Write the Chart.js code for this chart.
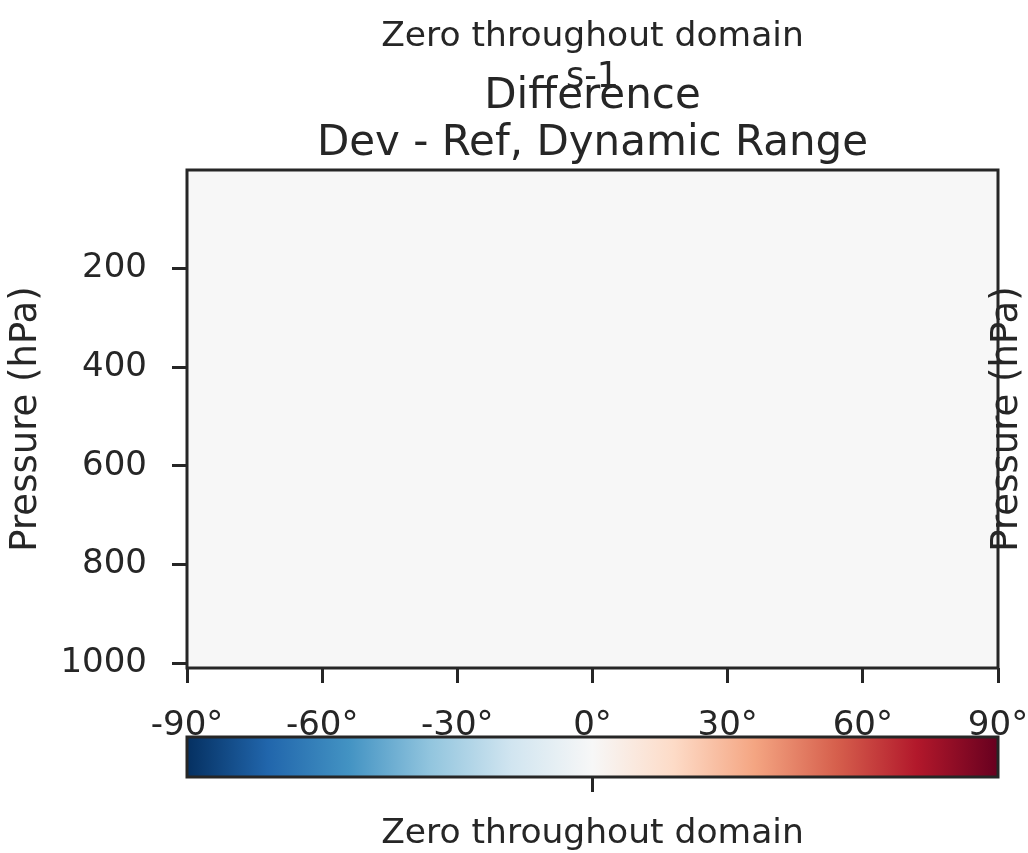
<!DOCTYPE html>
<html>
<head>
<meta charset="utf-8">
<script src="https://cdn.jsdelivr.net/npm/chart.js@4.4.1/dist/chart.umd.min.js"></script>
<style>
  html, body { margin: 0; padding: 0; background: #ffffff; }
  #wrap { width: 1028px; height: 853px; }
</style>
</head>
<body>
<div id="wrap"><canvas id="chart" width="1028" height="853"></canvas></div>
<script>
// zonal mean difference field (Dev - Ref), zero everywhere
const latitudeCenters = [-75, -45, -15, 15, 45, 75];
const pressureBand = [0, 1010];
const diffValues = [0, 0, 0, 0, 0, 0];
const xTickValues = [-90, -60, -30, 0, 30, 60, 90];
const yTickValues = [200, 400, 600, 800, 1000];
const colorbarRange = [-1, 1];
const colorbarTicks = [0];
// RdBu_r colormap
const cmapStops = ["#053061", "#2166ac", "#4393c3", "#92c5de", "#d1e5f0", "#f7f7f7",
                   "#fddbc7", "#f4a582", "#d6604d", "#b2182b", "#67001f"];

const TEXT = "#262626";
const FONT = "'DejaVu Sans', sans-serif";

function hexToRgb(h) {
  return [parseInt(h.slice(1, 3), 16), parseInt(h.slice(3, 5), 16), parseInt(h.slice(5, 7), 16)];
}

function colorFor(v) {
  let t = (v - colorbarRange[0]) / (colorbarRange[1] - colorbarRange[0]);
  t = Math.max(0, Math.min(1, t));
  const pos = t * (cmapStops.length - 1);
  const i = Math.min(Math.floor(pos), cmapStops.length - 2);
  const f = pos - i;
  const a = hexToRgb(cmapStops[i]);
  const b = hexToRgb(cmapStops[i + 1]);
  const c = a.map((x, k) => Math.round(x + (b[k] - x) * f));
  return `rgb(${c[0]},${c[1]},${c[2]})`;
}

// titles, frame, right-hand label and colorbar
const figureDecor = {
  id: "figureDecor",
  afterDatasetsDraw(chart) {
    const { ctx, chartArea } = chart;
    ctx.save();
    ctx.strokeStyle = TEXT;
    ctx.lineWidth = 3;
    ctx.strokeRect(chartArea.left, chartArea.top, chartArea.right - chartArea.left, chartArea.bottom - chartArea.top);
    ctx.restore();
  },
  afterDraw(chart) {
    const { ctx, chartArea } = chart;
    const cx = (chartArea.left + chartArea.right) / 2;
    const cy = (chartArea.top + chartArea.bottom) / 2;
    ctx.save();
    ctx.fillStyle = TEXT;
    ctx.textAlign = "center";
    ctx.textBaseline = "alphabetic";

    ctx.font = `34.5px ${FONT}`;
    ctx.fillText("Zero throughout domain", cx, 46);
    ctx.font = `35px ${FONT}`;
    ctx.fillText("s-1", cx, 87);
    ctx.font = `42px ${FONT}`;
    ctx.fillText("Difference", cx, 108);
    ctx.fillText("Dev - Ref, Dynamic Range", cx, 155);

    // right axis label (drawn over the frame like the original)
    ctx.save();
    ctx.translate(chartArea.right + 9, cy);
    ctx.rotate(-Math.PI / 2);
    ctx.textBaseline = "middle";
    ctx.font = `37px ${FONT}`;
    ctx.fillText("Pressure (hPa)", 0, 0);
    ctx.restore();

    // colorbar
    const cbLeft = chartArea.left;
    const cbWidth = chartArea.right - chartArea.left;
    const cbTop = chartArea.bottom + 69;
    const cbHeight = 40;
    const grad = ctx.createLinearGradient(cbLeft, 0, cbLeft + cbWidth, 0);
    cmapStops.forEach((c, i) => grad.addColorStop(i / (cmapStops.length - 1), c));
    ctx.fillStyle = grad;
    ctx.fillRect(cbLeft, cbTop, cbWidth, cbHeight);
    ctx.strokeStyle = TEXT;
    ctx.lineWidth = 3;
    ctx.strokeRect(cbLeft, cbTop, cbWidth, cbHeight);

    colorbarTicks.forEach((v) => {
      const x = cbLeft + (v - colorbarRange[0]) / (colorbarRange[1] - colorbarRange[0]) * cbWidth;
      ctx.beginPath();
      ctx.moveTo(x, cbTop + cbHeight);
      ctx.lineTo(x, cbTop + cbHeight + 15);
      ctx.stroke();
    });

    ctx.fillStyle = TEXT;
    ctx.font = `34.5px ${FONT}`;
    ctx.textBaseline = "alphabetic";
    ctx.fillText("Zero throughout domain", cx, 843);
    ctx.restore();
  }
};

const tickGrid = {
  display: true,
  drawOnChartArea: false,
  drawTicks: true,
  tickLength: 15,
  tickWidth: 3,
  tickColor: TEXT,
  offset: false
};

const ctx = document.getElementById("chart").getContext("2d");
const chart = new Chart(ctx, {
  type: "bar",
  data: {
    datasets: [{
      data: latitudeCenters.map((lat, i) => ({ x: lat, y: pressureBand })),
      backgroundColor: diffValues.map(colorFor),
      borderWidth: 0,
      barPercentage: 1.0,
      categoryPercentage: 1.0
    }]
  },
  options: {
    responsive: false,
    animation: false,
    layout: { padding: { top: 170, right: 30, bottom: 105, left: 0 } },
    plugins: {
      legend: { display: false },
      tooltip: { enabled: false },
      title: { display: false }
    },
    scales: {
      x: {
        type: "linear",
        position: "bottom",
        min: -90,
        max: 90,
        offset: false,
        grid: tickGrid,
        border: { display: false },
        ticks: {
          color: TEXT,
          font: { family: FONT, size: 34 },
          padding: 23,
          maxRotation: 0,
          autoSkip: false,
          callback: (v) => v + "\u00b0"
        },
        afterBuildTicks: (scale) => {
          scale.ticks = xTickValues.map((v) => ({ value: v }));
        },
        afterFit: (scale) => {
          scale.height = 80;
          scale.paddingLeft = 0;
          scale.paddingRight = 0;
        }
      },
      y: {
        type: "linear",
        position: "left",
        reverse: true,
        min: 0,
        max: 1010,
        grid: tickGrid,
        border: { display: false },
        ticks: {
          color: TEXT,
          font: { family: FONT, size: 34 },
          padding: 25,
          autoSkip: false,
          callback: (v) => String(v)
        },
        title: {
          display: true,
          text: "Pressure (hPa)",
          color: TEXT,
          font: { family: FONT, size: 37 },
          padding: { top: 4, bottom: 0 }
        },
        afterBuildTicks: (scale) => {
          scale.ticks = yTickValues.map((v) => ({ value: v }));
        },
        afterFit: (scale) => {
          scale.width = 187;
          scale.paddingTop = 0;
          scale.paddingBottom = 0;
        }
      }
    }
  },
  plugins: [figureDecor]
});
</script>
</body>
</html>
